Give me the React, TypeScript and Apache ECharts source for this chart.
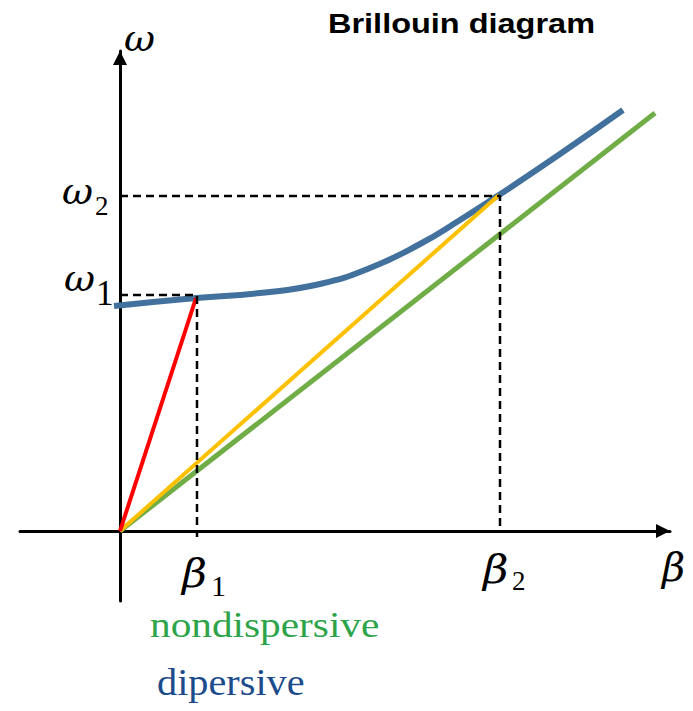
import React, { useEffect, useRef } from "react";
import * as echarts from "echarts";

// ---- data (β in arbitrary units, ω in arbitrary units) ----
const dispersiveBeta = [-0.6, 7.6, 14.0, 20.0, 25.0, 30.0, 34.0, 37.9, 44.0, 50.3];
const dispersiveOmega = [22.5, 23.3, 23.8, 24.7, 26.3, 28.7, 31.1, 33.6, 37.7, 42.1];
const nondispersiveBeta = [0, 53.5];
const nondispersiveOmega = [0, 41.8];
const phase1Beta = [0, 7.6];
const phase1Omega = [0, 23.3];
const phase2Beta = [0, 37.9];
const phase2Omega = [0, 33.6];
const guide1Beta = [0, 7.7, 7.7];
const guide1Omega = [23.6, 23.6, -0.6];
const guide2Beta = [0, 38.0, 38.0];
const guide2Omega = [33.5, 33.5, 0];

const pairs = (xs: number[], ys: number[]) => xs.map((x, i) => [x, ys[i]]);

const SERIF = '"Liberation Serif", "Times New Roman", serif';
const GREEK = '"DejaVu Serif", serif';
const SANS = '"Liberation Sans", Arial, sans-serif';

function txt(text: string, x: number, y: number, size: number, opts: any = {}) {
  return {
    type: "text",
    x,
    y,
    scaleX: opts.scaleX ?? 1,
    z: 100,
    style: {
      text,
      fontFamily: opts.family ?? SERIF,
      fontSize: size,
      fontStyle: opts.italic ? "italic" : "normal",
      fontWeight: opts.bold ? "bold" : "normal",
      fill: opts.color ?? "#000",
      textAlign: "left",
      verticalAlign: "middle",
    },
  };
}

export default function App() {
  const ref = useRef<HTMLDivElement>(null);
  useEffect(() => {
    if (!ref.current) return;
    const chart = echarts.init(ref.current, undefined, { renderer: "svg" });
    const dashed = { color: "#000", width: 2.5, type: [8, 5] as any };
    chart.setOption({
      animation: false,
      backgroundColor: "#fff",
      grid: { left: 20, right: 23, top: 51, bottom: 110, containLabel: false },
      xAxis: {
        type: "value",
        min: -10,
        max: 55,
        axisLine: {
          onZero: true,
          symbol: ["none", "triangle"],
          symbolSize: [14, 14],
          symbolOffset: [0, -7],
          lineStyle: { color: "#000", width: 3 },
        },
        axisTick: { show: false },
        axisLabel: { show: false },
        splitLine: { show: false },
      },
      yAxis: {
        type: "value",
        min: -7,
        max: 48,
        axisLine: {
          onZero: true,
          symbol: ["none", "triangle"],
          symbolSize: [14, 14],
          symbolOffset: [0, -7],
          lineStyle: { color: "#000", width: 3 },
        },
        axisTick: { show: false },
        axisLabel: { show: false },
        splitLine: { show: false },
      },
      series: [
        {
          type: "line",
          data: pairs(nondispersiveBeta, nondispersiveOmega),
          symbol: "none",
          lineStyle: { color: "#70ad47", width: 5 },
          z: 2,
        },
        {
          type: "line",
          data: pairs(phase2Beta, phase2Omega),
          symbol: "none",
          lineStyle: { color: "#ffc000", width: 4 },
          z: 3,
        },
        {
          type: "line",
          data: pairs(dispersiveBeta, dispersiveOmega),
          symbol: "none",
          smooth: 0.5,
          lineStyle: { color: "#41719c", width: 6 },
          z: 2,
        },
        {
          type: "line",
          data: pairs(phase1Beta, phase1Omega),
          symbol: "none",
          lineStyle: { color: "#ff0000", width: 4 },
          z: 3,
        },
        {
          type: "line",
          data: pairs(guide1Beta, guide1Omega),
          symbol: "none",
          lineStyle: dashed,
          z: 4,
        },
        {
          type: "line",
          data: pairs(guide2Beta, guide2Omega),
          symbol: "none",
          lineStyle: dashed,
          z: 4,
        },
      ],
      graphic: [
        txt("Brillouin diagram", 328, 23, 28, { family: SANS, bold: true, scaleX: 1.16 }),
        txt("ω", 124, 38, 38, { italic: true, family: GREEK }),
        txt("ω", 62, 191, 38, { italic: true, family: GREEK }),
        txt("2", 95, 206, 27),
        txt("ω", 64, 278, 38, { italic: true, family: GREEK }),
        txt("1", 96, 293, 35),
        txt("β", 182, 573, 40, { italic: true, family: GREEK, scaleX: 1.08 }),
        txt("1", 211, 585, 30),
        txt("β", 483, 569, 40, { italic: true, family: GREEK, scaleX: 1.1 }),
        txt("2", 512, 581, 27),
        txt("β", 662, 567, 40, { italic: true, family: GREEK }),
        txt("nondispersive", 150, 625, 35, { color: "#2ea44a", scaleX: 1.18 }),
        txt("dipersive", 157, 682, 38, { color: "#1c4b8b", scaleX: 1.06 }),
      ],
    });
    return () => chart.dispose();
  }, []);
  return (
    <div
      ref={ref}
      style={{ position: "fixed", left: 0, top: 0, width: 693, height: 711 }}
    />
  );
}
